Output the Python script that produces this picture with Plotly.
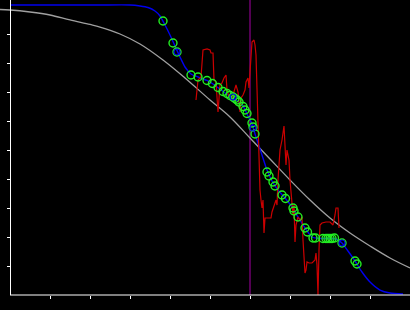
import plotly.graph_objects as go

# Gray reference curve
gray_x = [-0.25, 0.0, 0.5, 1.0, 1.5, 2.0, 2.25, 2.75, 3.25, 3.825, 4.375, 5.0, 5.5, 6.0,
          6.5, 7.0, 7.5, 8.0, 8.5, 9.0, 9.5, 10.0]
gray_y = [9.845, 9.828, 9.759, 9.655, 9.483, 9.328, 9.241, 9.0, 8.655, 8.103, 7.483, 6.724,
          6.138, 5.414, 4.690, 3.966, 3.276, 2.655, 2.138, 1.690, 1.276, 0.931]

# Blue fitted curve
blue_x = [0.0, 1.25, 2.25, 3.0, 3.25, 3.45, 3.625, 3.75, 3.875, 4.0, 4.125, 4.25, 4.375,
          4.525, 4.7, 4.925, 5.075, 5.25, 5.45, 5.65, 5.825, 5.95, 6.05, 6.125, 6.2, 6.3,
          6.425, 6.55, 6.7, 6.875, 7.05, 7.2, 7.375, 7.55, 7.75, 8.0, 8.15, 8.3, 8.45,
          8.625, 8.8, 9.0, 9.25, 9.5, 9.825]
blue_y = [10.0, 10.0, 10.0, 10.0, 9.966, 9.914, 9.793, 9.621, 9.310, 8.966, 8.586, 8.207,
          7.862, 7.621, 7.517, 7.397, 7.276, 7.103, 6.897, 6.724, 6.517, 6.172, 5.897,
          5.552, 5.241, 4.828, 4.310, 3.931, 3.621, 3.345, 3.034, 2.690, 2.310, 2.0,
          1.948, 1.948, 1.931, 1.793, 1.517, 1.172, 0.793, 0.448, 0.172, 0.069, 0.034]

# Red noisy series
red_x = [4.65, 4.7, 4.775, 4.825, 4.925, 5.0, 5.025, 5.075, 5.1, 5.15, 5.2, 5.225, 5.25,
         5.3, 5.35, 5.4, 5.425, 5.475, 5.525, 5.575, 5.625, 5.65, 5.7, 5.725, 5.75, 5.775,
         5.825, 5.875, 5.9, 5.95, 5.975, 6.0, 6.025, 6.05, 6.1, 6.125, 6.15, 6.175, 6.2,
         6.225, 6.25, 6.275, 6.3, 6.325, 6.35, 6.375, 6.45, 6.525, 6.55, 6.6, 6.65, 6.675,
         6.7, 6.75, 6.8, 6.85, 6.875, 6.9, 6.925, 6.975, 7.0, 7.05, 7.075, 7.1, 7.125,
         7.15, 7.2, 7.25, 7.3, 7.325, 7.35, 7.375, 7.4, 7.425, 7.475, 7.55, 7.625, 7.65,
         7.675, 7.7, 7.725, 7.75, 7.8, 7.9, 8.0, 8.075, 8.125, 8.15, 8.2, 8.225]
red_y = [6.724, 7.414, 7.517, 8.448, 8.483, 8.448, 8.345, 8.345, 7.414, 7.345, 6.310,
         6.897, 7.241, 7.310, 7.483, 7.586, 7.069, 6.828, 6.724, 6.897, 7.138, 7.241, 7.0,
         6.724, 6.310, 6.793, 6.897, 7.069, 7.345, 7.483, 7.138, 7.690, 8.276, 8.724,
         8.793, 8.621, 8.276, 7.241, 6.034, 4.483, 3.621, 3.276, 3.0, 3.276, 2.138, 2.655,
         2.655, 2.655, 2.862, 3.103, 3.276, 3.103, 3.966, 5.0, 5.345, 5.828, 5.0, 4.483,
         5.0, 4.655, 3.966, 3.276, 2.759, 3.103, 1.828, 2.414, 2.690, 2.586, 2.690, 1.897,
         1.034, 0.759, 0.862, 1.138, 1.103, 1.103, 1.207, 1.448, 1.034, 0.0, 1.552, 2.414,
         2.483, 2.517, 2.517, 2.414, 2.759, 3.0, 3.0, 2.310]

# Green sample points
green_x = [3.825, 4.075, 4.175, 4.525, 4.7, 4.925, 5.06, 5.2, 5.325, 5.425, 5.5, 5.575,
           5.625, 5.675, 5.725, 5.825, 5.875, 5.925, 6.05, 6.075, 6.125, 6.425, 6.475,
           6.575, 6.625, 6.8, 6.8875, 7.075, 7.1, 7.2, 7.375, 7.4375, 7.575, 7.6375,
           7.825, 7.9, 7.95, 8.0, 8.05, 8.1125, 8.3, 8.625, 8.675]
green_y = [9.448, 8.690, 8.379, 7.586, 7.517, 7.397, 7.293, 7.155, 7.017, 6.948, 6.879,
           6.828, 6.776, 6.724, 6.655, 6.5, 6.379, 6.259, 5.931, 5.793, 5.552, 4.241,
           4.103, 3.897, 3.759, 3.448, 3.328, 3.0, 2.897, 2.690, 2.310, 2.172, 1.966,
           1.966, 1.948, 1.948, 1.948, 1.948, 1.948, 1.966, 1.793, 1.172, 1.069]

# Blue sample points
bpts_x = [4.175, 5.575, 6.075, 8.3]
bpts_y = [8.379, 6.828, 5.759, 1.793]

threshold_x = 6.0
x_ticks = [1, 2, 3, 4, 5, 6, 7, 8, 9]
y_ticks = [1, 2, 3, 4, 5, 6, 7, 8, 9]

fig = go.Figure()
fig.add_trace(go.Scatter(x=gray_x, y=gray_y, mode="lines", line=dict(color="#a0a0a0", width=1.3, shape="spline")))
fig.add_trace(go.Scatter(x=blue_x, y=blue_y, mode="lines", line=dict(color="#0000ee", width=1.4, shape="spline", smoothing=0.6)))
fig.add_trace(go.Scatter(x=red_x, y=red_y, mode="lines", line=dict(color="#cc0000", width=1.2)))
fig.add_trace(go.Scatter(x=green_x, y=green_y, mode="markers",
                         marker=dict(symbol="circle-open", size=8, color="#22ee22", line=dict(width=1.4))))
fig.add_trace(go.Scatter(x=bpts_x, y=bpts_y, mode="markers",
                         marker=dict(symbol="circle-open", size=6, color="#0000ee", line=dict(width=1.2))))

fig.add_vline(x=threshold_x, line=dict(color="#8b008b", width=1.2), layer="below")

fig.add_shape(type="line", xref="paper", yref="paper", x0=10/410, x1=1, y0=0, y1=0,
              line=dict(color="white", width=1))

fig.update_layout(
    width=410, height=310, margin=dict(l=0, r=0, t=0, b=15),
    paper_bgcolor="black", plot_bgcolor="black", showlegend=False,
    xaxis=dict(range=[-0.25, 10], showgrid=False, zeroline=False, showline=False,
               ticks="outside", tickvals=x_ticks, ticklen=3, tickwidth=1, tickcolor="white",
               showticklabels=False),
    yaxis=dict(range=[0, 295/29], anchor="free", position=10/410, showgrid=False, zeroline=False,
               showline=True, linecolor="white", linewidth=1,
               ticks="outside", tickvals=y_ticks, ticklen=3, tickwidth=1, tickcolor="white",
               showticklabels=False),
)

fig.write_html("out.html")
